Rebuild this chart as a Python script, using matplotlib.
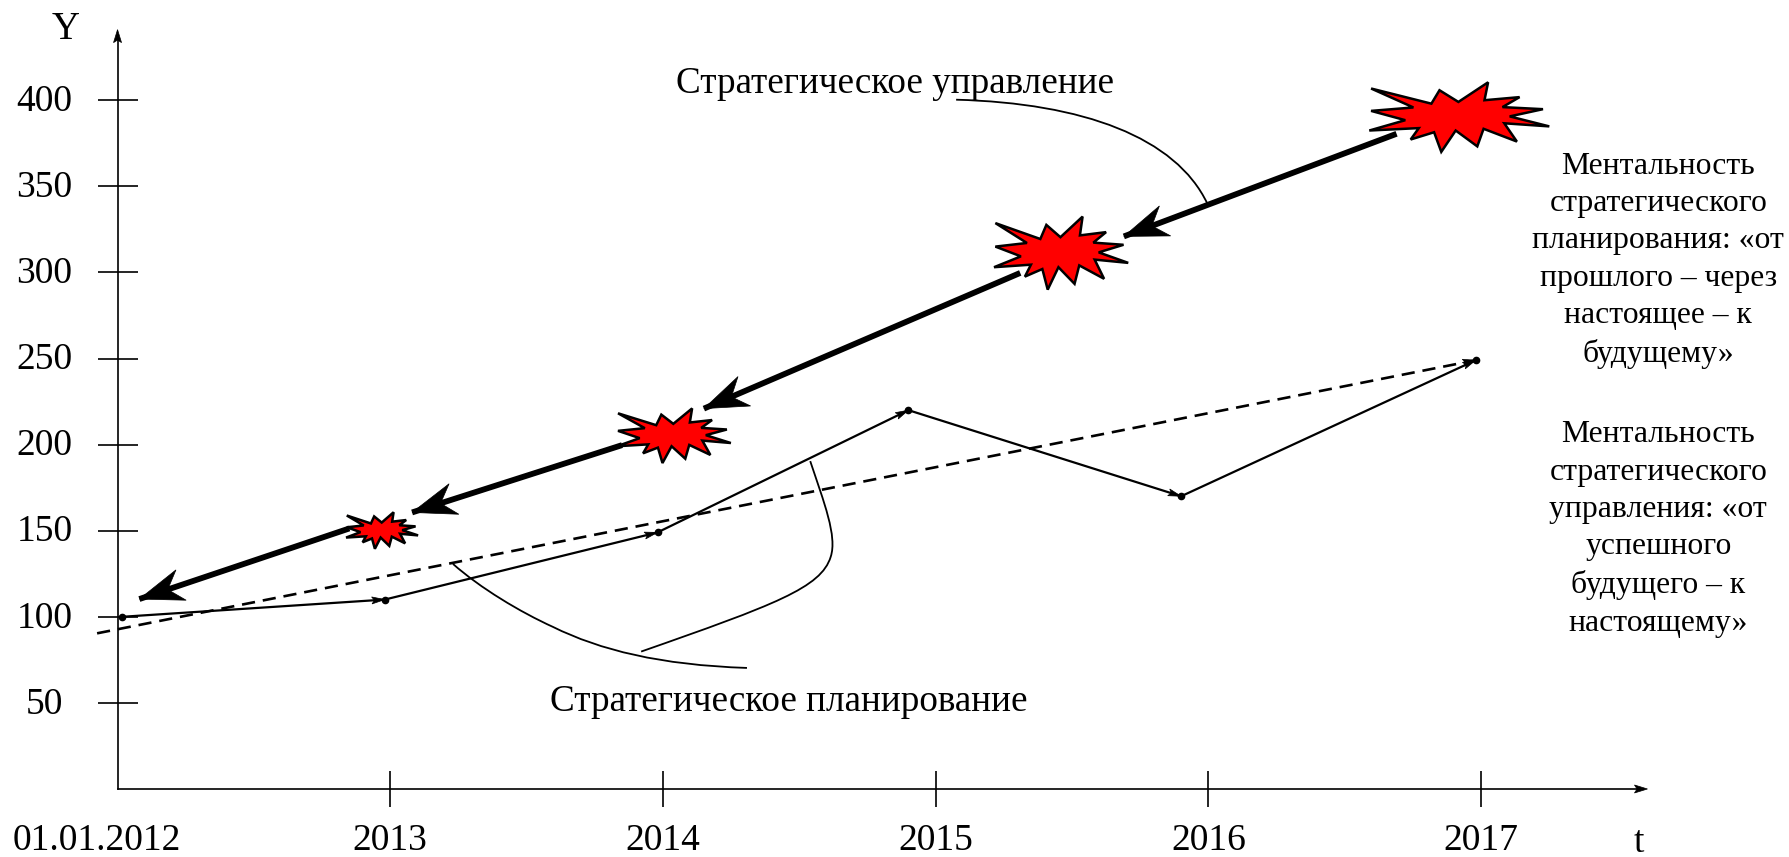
import matplotlib
matplotlib.use("Agg")
import matplotlib.pyplot as plt
import numpy as np
from matplotlib.path import Path
from matplotlib.patches import PathPatch, Polygon
from matplotlib.transforms import ScaledTranslation

plt.rcParams['font.family'] = ['Liberation Serif', 'DejaVu Serif']

# data
years = [2012, 2013, 2014, 2015, 2016, 2017]
year_labels = ['01.01.2012', '2013', '2014', '2015', '2016', '2017']
y_ticks = [50, 100, 150, 200, 250, 300, 350, 400]

plan_x = [2012.017, 2012.98, 2013.98, 2014.9, 2015.9, 2016.98]
plan_y = [100, 110, 149, 220, 170, 249]

trend_x = [2011.925, 2016.98]
trend_y = [90.4, 249]

# thick arrows, from star to star (start, end)
mgmt_x0 = [2016.69, 2015.31, 2013.85, 2012.85]
mgmt_y0 = [380.5, 299.7, 199.7, 151.3]
mgmt_x1 = [2015.69, 2014.15, 2013.08, 2012.08]
mgmt_y1 = [320.9, 220.9, 160.6, 110.3]

star_x = [2012.97, 2014.04, 2015.46, 2016.92]
star_y = [150, 205, 311, 390]
star_w = [0.132, 0.209, 0.246, 0.33]
star_h = [10.5, 15.7, 21, 20]

# outline of the burst, -1..1 on both axes
burst_x = [-0.98, -0.31, -0.22, -0.01, 0.32, 0.28, 0.67, 0.48, 0.93, 0.56, 1.0, 0.5,
           0.64, 0.27, 0.2, -0.04, -0.2, -0.28, -0.54, -0.45, -1.0, -0.6, -0.98, -0.51]
burst_y = [0.84, 0.4, 0.79, 0.45, 1.02, 0.5, 0.59, 0.3, 0.24, 0.03, -0.26, -0.17,
           -0.7, -0.33, -0.84, -0.38, -1.0, -0.43, -0.64, -0.31, -0.38, -0.08, 0.19, 0.29]

curve_mgmt = [(2015.075, 400.3), (2015.54, 398.3), (2015.88, 378.5), (2015.996, 340)]
curve_plan1 = [(2013.23, 130.7), (2013.33, 116.7), (2013.476, 102.8), (2013.597, 94.1),
               (2013.769, 80.7), (2013.989, 72), (2014.308, 70.3)]
curve_plan2 = [(2014.54, 190.4), (2014.59, 166.6), (2014.64, 146.7), (2014.615, 134.8),
               (2014.58, 116.9), (2014.41, 107), (2013.92, 79.8)]

note_past = 'Ментальность\nстратегического\nпланирования: «от\nпрошлого – через\nнастоящее – к\nбудущему»'
note_future = 'Ментальность\nстратегического\nуправления: «от\nуспешного\nбудущего – к\nнастоящему»'

fig = plt.figure(figsize=(17.89, 8.57), dpi=100)
ax = fig.add_axes([0, 0, 1, 1])
ax.set_xlim(2011.569, 2018.129)
ax.set_ylim(-39.5, 458.2)


def arrow_head(x0, y0, x1, y1, length, width, notch, z=5):
    # head is sized in pixels, so go through the display coords
    p0 = ax.transData.transform((x0, y0))
    p1 = ax.transData.transform((x1, y1))
    d = (p1 - p0) / np.hypot(*(p1 - p0))
    n = np.array([-d[1], d[0]])
    pts = [p1, p1 - d * length + n * width, p1 - d * length * notch, p1 - d * length - n * width]
    pts = ax.transData.inverted().transform(pts)
    ax.add_patch(Polygon(pts, closed=True, fc='black', ec='black', lw=0.5, zorder=z, clip_on=False))


def bezier(points, lw=1.3):
    codes = [Path.MOVETO] + [Path.CURVE4] * (len(points) - 1)
    ax.add_patch(PathPatch(Path(points, codes), fc='none', ec='black', lw=lw, zorder=3))


# axes
for s in ['top', 'right']:
    ax.spines[s].set_visible(False)
ax.spines['left'].set_position(('data', 2012))
ax.spines['bottom'].set_position(('data', 0))
ax.spines['left'].set_bounds(0, 438)
ax.spines['bottom'].set_bounds(2012, 2017.58)
ax.spines['left'].set_linewidth(1.2)
ax.spines['bottom'].set_linewidth(1.2)
arrow_head(2012, 400, 2012, 441, 13, 4, 0.8)
arrow_head(2017.3, 0, 2017.61, 0, 13, 4, 0.8)

ax.set_xticks(years)
ax.set_xticklabels(year_labels, fontsize=27)
ax.set_yticks(y_ticks)
ax.set_yticklabels(y_ticks, fontsize=27, ha='center')
ax.tick_params(axis='x', direction='inout', length=26, width=1.2, pad=12)
ax.tick_params(axis='y', direction='inout', length=29, width=1.2, pad=38)
ax.xaxis.get_major_ticks()[0].tick1line.set_visible(False)
lab0 = ax.get_xticklabels()[0]
lab0.set_transform(lab0.get_transform() + ScaledTranslation(-21 / 100, 0, fig.dpi_scale_trans))
for lab in ax.get_yticklabels():
    lab.set_transform(lab.get_transform() + ScaledTranslation(0, 2.5 / 100, fig.dpi_scale_trans))

ax.text(2011.81, 441, 'Y', fontsize=28, ha='center', va='center')
ax.text(2017.58, -31, 't', fontsize=27, ha='center', va='center')

# planning line and trend
ax.plot(plan_x, plan_y, color='black', lw=1.6, zorder=4)
ax.plot(plan_x, plan_y, 'o', color='black', ms=4.5, zorder=4)
for i in range(1, len(plan_x)):
    arrow_head(plan_x[i - 1], plan_y[i - 1], plan_x[i], plan_y[i], 13, 3.5, 0.8)
ax.plot(trend_x, trend_y, color='black', lw=1.9, dashes=(5, 3), zorder=3)
arrow_head(trend_x[0], trend_y[0], trend_x[1], trend_y[1], 13, 3.5, 0.8)

# management arrows
for i in range(len(mgmt_x0)):
    ax.plot([mgmt_x0[i], mgmt_x1[i]], [mgmt_y0[i], mgmt_y1[i]], color='black', lw=4.2,
            solid_capstyle='butt', zorder=4)
    arrow_head(mgmt_x0[i], mgmt_y0[i], mgmt_x1[i], mgmt_y1[i], 44, 16, 0.68)

# bursts
for i in range(len(star_x)):
    xs = star_x[i] + np.array(burst_x) * star_w[i]
    ys = star_y[i] + np.array(burst_y) * star_h[i]
    ax.add_patch(Polygon(np.column_stack([xs, ys]), closed=True, fc='#ff0000', ec='black',
                         lw=1.8, joinstyle='miter', zorder=6))

bezier(curve_mgmt)
bezier(curve_plan1)
bezier(curve_plan2)

ax.text(2014.85, 409.5, 'Стратегическое управление', fontsize=26.7, ha='center', va='center')
ax.text(2014.46, 50.5, 'Стратегическое планирование', fontsize=26.7, ha='center', va='center')
ax.text(2017.65, 307, note_past, fontsize=22.8, ha='center', va='center', linespacing=1.38)
ax.text(2017.65, 151, note_future, fontsize=22.8, ha='center', va='center', linespacing=1.38)

fig.savefig('out.png', dpi=100)
